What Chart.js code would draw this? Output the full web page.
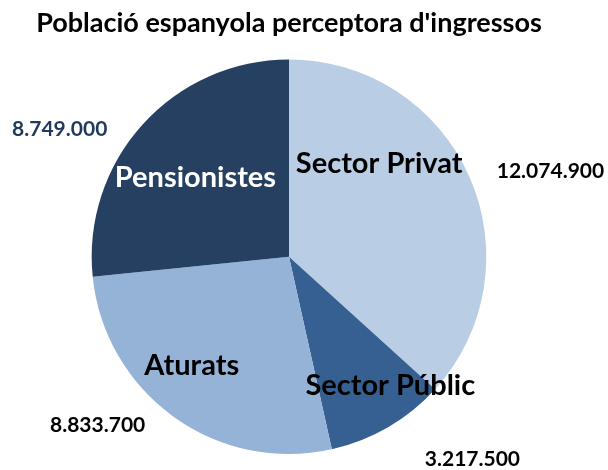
<!DOCTYPE html>
<html>
<head>
<meta charset="utf-8">
<script src="https://cdn.jsdelivr.net/npm/chart.js@4/dist/chart.umd.min.js"></script>
<style>
  html, body { margin: 0; padding: 0; background: #ffffff; }
  #wrap { width: 608px; height: 470px; }
</style>
</head>
<body>
<div id="wrap"><canvas id="c" width="608" height="470"></canvas></div>
<script>
// ---- data ----
const categories = ['Sector Privat', 'Sector Públic', 'Aturats', 'Pensionistes'];
const values = [12074900, 3217500, 8833700, 8749000];
const valueLabels = ['12.074.900', '3.217.500', '8.833.700', '8.749.000'];
const titleText = "Població espanyola perceptora d'ingressos";

// ---- styles ----
const sliceColors = ['#B9CDE5', '#376092', '#95B3D7', '#254061'];
const nameColors = ['#000000', '#000000', '#000000', '#FFFFFF'];
const valueColors = ['#000000', '#000000', '#000000', '#1F3A5C'];
const FONT = 'Lato, "Open Sans", sans-serif';

// label placement (polar: degrees clockwise from top, fraction of radius)
const namePlacement = [[44.1, 0.657], [141.9, 0.832], [221.7, 0.741], [310.2, 0.621]];
const valuePlacement = [[71.8, 1.395], [137.8, 1.384], [228.7, 1.291], [299.1, 1.33]];

const labelPlugin = {
  id: 'sliceLabels',
  afterDatasetsDraw(chart) {
    const ctx = chart.ctx;
    const meta = chart.getDatasetMeta(0);
    const arc0 = meta.data[0];
    const cx = arc0.x, cy = arc0.y, R = arc0.outerRadius;
    ctx.save();
    ctx.textAlign = 'center';
    ctx.textBaseline = 'middle';
    const pos = (p) => {
      const a = p[0] * Math.PI / 180;
      return [cx + Math.sin(a) * R * p[1], cy - Math.cos(a) * R * p[1]];
    };
    categories.forEach((name, i) => {
      const [x, y] = pos(namePlacement[i]);
      ctx.font = 'bold 29px ' + FONT;
      ctx.fillStyle = nameColors[i];
      ctx.fillText(name, x, y);
      const [vx, vy] = pos(valuePlacement[i]);
      ctx.font = 'bold 21px ' + FONT;
      ctx.fillStyle = valueColors[i];
      ctx.fillText(valueLabels[i], vx, vy);
    });
    ctx.restore();
  }
};

new Chart(document.getElementById('c'), {
  type: 'pie',
  data: {
    labels: categories,
    datasets: [{
      data: values,
      backgroundColor: sliceColors,
      borderWidth: 0
    }]
  },
  options: {
    responsive: false,
    animation: false,
    events: [],
    layout: { padding: { left: 0, right: 30, top: 0, bottom: 16 } },
    plugins: {
      legend: { display: false },
      tooltip: { enabled: false },
      title: {
        display: true,
        text: titleText,
        color: '#000000',
        font: { family: FONT, size: 27, weight: 'bold' },
        padding: { top: 7, bottom: 20 }
      }
    }
  },
  plugins: [labelPlugin]
});
</script>
</body>
</html>
